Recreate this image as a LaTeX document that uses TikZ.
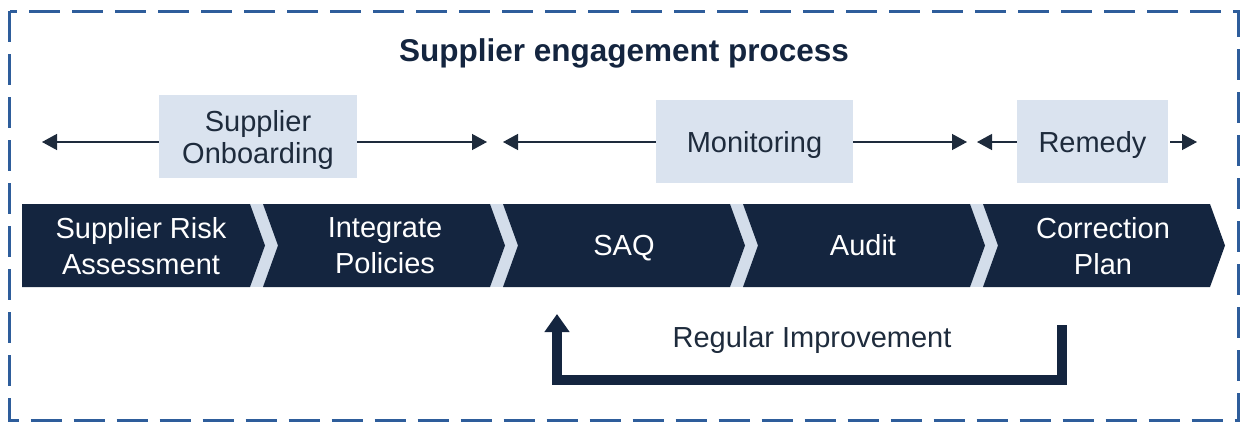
\documentclass[tikz,border=0pt]{standalone}
\usepackage{fontspec}
\setmainfont{Liberation Sans}
\usetikzlibrary{arrows.meta}

\definecolor{navy}{HTML}{14253F}
\definecolor{ink}{HTML}{1E2B3C}
\definecolor{boxfill}{HTML}{DAE3EF}
\definecolor{gapfill}{HTML}{D3DDEA}
\definecolor{frameblue}{HTML}{2E5D9B}

\begin{document}
\begin{tikzpicture}[x=1pt,y=-1pt,
  phase/.style={fill=boxfill, inner sep=0pt, text=ink, text depth=0pt,
    font=\fontsize{29}{32}\selectfont, align=center, minimum height=83pt},
  steptext/.style={text=white, text depth=0pt, font=\fontsize{29}{36}\selectfont, align=center},
  span/.style={draw=ink, line width=1.3pt, -{Triangle[length=15pt,width=16pt]}},
  chev/.style={fill=navy},
]
\useasboundingbox (0,0) rectangle (1241,423);

% dashed frame
\draw[frameblue, line width=3pt, dash pattern=on 31pt off 12pt]
  (9.5,11) -- (9.5,420) -- (1238,420) -- (1238,11) -- cycle;

% title
\node[text=navy, font=\fontsize{31.5}{36}\selectfont\bfseries] (title) at (624,53)
  {Supplier engagement process};

% phase labels
\node[phase, minimum width=198pt] (onb) at (258,136.5) {Supplier\\Onboarding};
\node[phase, minimum width=197pt] (mon) at (754.5,141.5) {Monitoring};
\node[phase, minimum width=151pt] (rem) at (1092.5,141.5) {Remedy};

% span arrows
\coordinate (onbL) at (42,142);
\coordinate (onbR) at (487,142);
\coordinate (monL) at (503,142);
\coordinate (monR) at (967,142);
\coordinate (remL) at (977,142);
\coordinate (remR) at (1197,142);
\draw[span] (onb.west |- onbL) -- (onbL);
\draw[span] (onb.east |- onbR) -- (onbR);
\draw[span] (mon.west |- monL) -- (monL);
\draw[span] (mon.east |- monR) -- (monR);
\draw[span] (rem.west |- remL) -- (remL);
\draw[span] ([xshift=2pt]rem.east |- remR) -- (remR);

% process chevrons
\fill[gapfill] (22,204) rectangle (1210,287);
\fill[chev] (22,204) -- (250,204) -- (265,245.5) -- (250,287) -- (22,287) -- cycle;
\foreach \s/\e in {263/490, 503/730, 743/970, 983/1210}{
  \fill[chev] (\s,204) -- (\e,204) -- (\e+15,245.5) -- (\e,287) -- (\s,287)
    -- (\s+15,245.5) -- cycle;
}
\node[steptext] (risk) at (141,245.5) {Supplier Risk\\Assessment};
\node[steptext] (policies) at (385,245.5) {Integrate\\Policies};
\node[steptext, anchor=base] (saq) at (624,255.5) {SAQ};
\node[steptext, anchor=base] (audit) at (863,255.5) {Audit};
\node[steptext] (plan) at (1103,245.5) {Correction\\Plan};

% improvement loop
\coordinate (loopstart) at (1062,325);
\coordinate (loopend) at (557,314);
\draw[navy, line width=9.5pt, line join=miter, -{Triangle[length=18pt,width=24pt]}]
  (loopstart) -- ++(0,55) -| (loopend);
\node[text=ink, font=\fontsize{29}{32}\selectfont] (looplabel) at (812,340)
  {Regular Improvement};
\end{tikzpicture}
\end{document}
